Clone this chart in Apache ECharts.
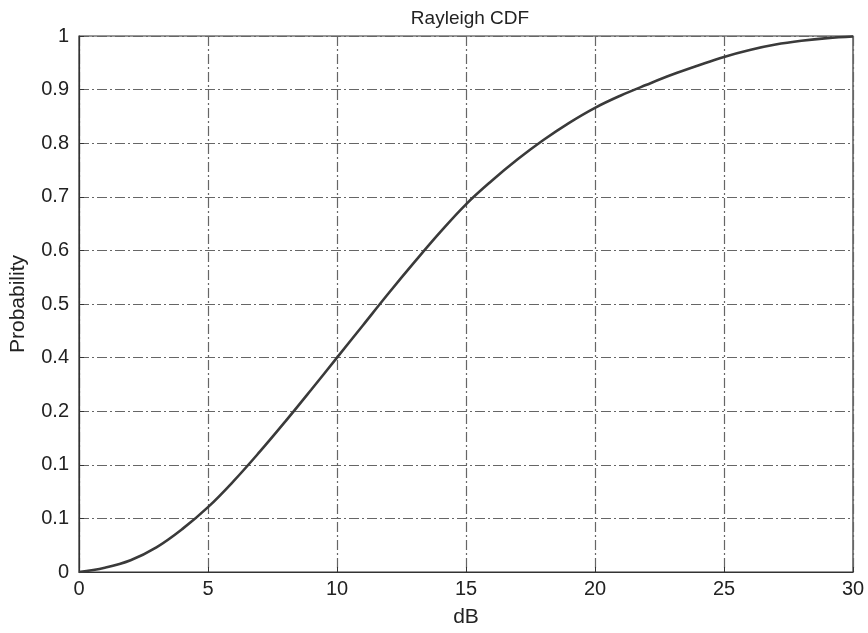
<!DOCTYPE html>
<html>
<head>
<meta charset="utf-8">
<script src="https://cdn.jsdelivr.net/npm/echarts@6/dist/echarts.min.js"></script>
<style>
  html, body { margin: 0; padding: 0; background: #fff; }
  #main { width: 868px; height: 633px; }
</style>
</head>
<body>
<div id="main"></div>
<script>
// x values (dB) and read-off CDF values
var xDb = [0, 1, 2, 3, 4, 5, 6, 7, 8, 9, 10, 11, 12, 13, 14, 15,
  16, 17, 18, 19, 20, 21, 22, 23, 24, 25, 26, 27, 28, 29, 30];
var prob = [0, 0.008, 0.022, 0.046, 0.08, 0.121, 0.17, 0.224, 0.281, 0.34, 0.40,
  0.46, 0.52, 0.578, 0.634, 0.686, 0.73, 0.77, 0.806, 0.838, 0.866,
  0.889, 0.909, 0.928, 0.945, 0.961, 0.974, 0.984, 0.991, 0.996, 0.999];
// y tick labels as printed in the figure
var yTickLabels = ["0", "0.1", "0.1", "0.2", "0.4", "0.5", "0.6", "0.7", "0.8", "0.9", "1"];
var xTickLabels = ["0", "5", "10", "15", "20", "25", "30"];

var font = "Liberation Sans, Arial, sans-serif";
var gridLine = { color: "#666", width: 1.2, type: [10, 3, 2, 3] };

var chart = echarts.init(document.getElementById("main"));
chart.setOption({
  animation: false,
  title: {
    text: "Rayleigh CDF",
    left: 465, top: 4, textAlign: "center",
    textStyle: { fontFamily: font, fontSize: 19, fontWeight: "normal", color: "#222" }
  },
  grid: { left: 78, right: 15, top: 36, bottom: 60, show: true, borderColor: "#333", borderWidth: 1.2 },
  xAxis: {
    type: "value", min: 0, max: 30, interval: 5,
    name: "dB", nameLocation: "middle", nameGap: 35,
    nameTextStyle: { fontFamily: font, fontSize: 21, color: "#222" },
    axisLine: { show: true, lineStyle: { color: "#333", width: 1.2 } },
    axisTick: { inside: true, length: 5, lineStyle: { color: "#333" } },
    axisLabel: {
      fontFamily: font, fontSize: 20, color: "#222", margin: 7,
      formatter: function (v) { return xTickLabels[Math.round(v / 5)]; }
    },
    splitLine: { show: true, lineStyle: gridLine }
  },
  yAxis: {
    type: "value", min: 0, max: 1, interval: 0.1,
    name: "Probability", nameLocation: "middle", nameGap: 50,
    nameTextStyle: { fontFamily: font, fontSize: 21, color: "#222" },
    axisLine: { show: true, lineStyle: { color: "#333", width: 1.2 } },
    axisTick: { inside: true, length: 5, lineStyle: { color: "#333" } },
    axisLabel: {
      fontFamily: font, fontSize: 20, color: "#222", margin: 10,
      formatter: function (v) { return yTickLabels[Math.round(v * 10)]; }
    },
    splitLine: { show: true, lineStyle: gridLine }
  },
  series: [{
    type: "line",
    data: xDb.map(function (x, i) { return [x, prob[i]]; }),
    smooth: 0.4,
    showSymbol: false,
    lineStyle: { color: "#3a3a3a", width: 2.6 }
  }]
});
</script>
</body>
</html>
